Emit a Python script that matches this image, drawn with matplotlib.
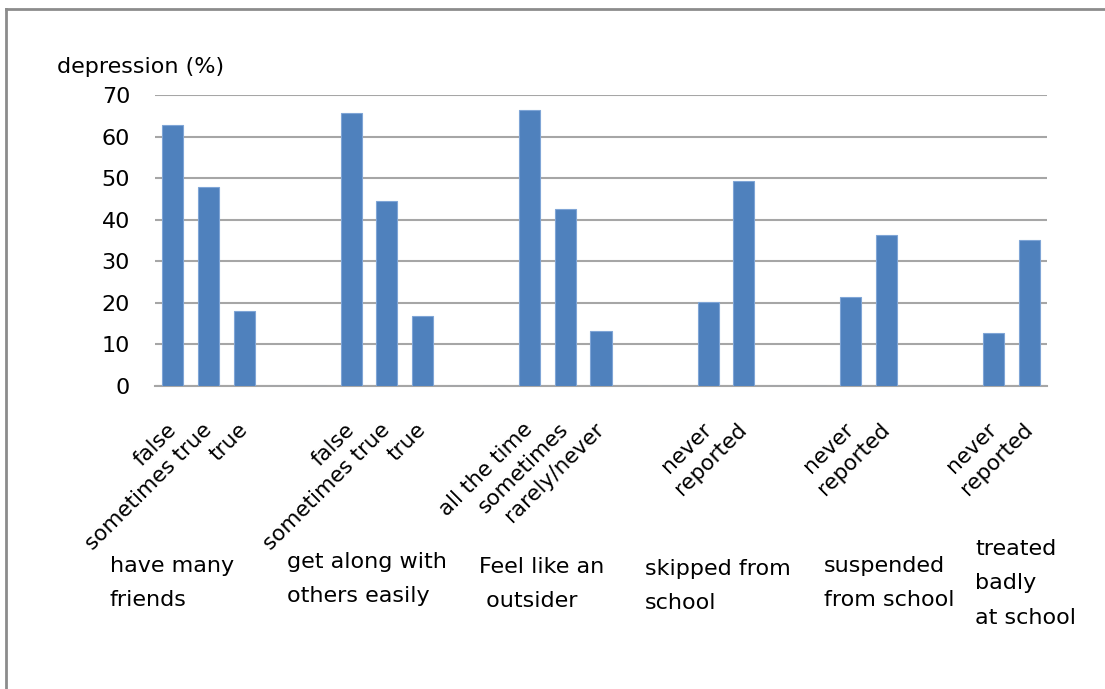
import matplotlib.pyplot as plt
from matplotlib.lines import Line2D

# bar slots (blank slots are the gaps between groups)
labels = ['false', 'sometimes true', 'true', '', '',
          'false', 'sometimes true', 'true', '', '',
          'all the time', 'sometimes', 'rarely/never', '', '',
          'never', 'reported', '', '',
          'never', 'reported', '', '',
          'never', 'reported']
values = [62.8, 47.9, 18.0, 0, 0,
          65.7, 44.5, 16.8, 0, 0,
          66.4, 42.6, 13.2, 0, 0,
          20.2, 49.3, 0, 0,
          21.4, 36.3, 0, 0,
          12.7, 35.1]
groups = ['have many\nfriends', 'get along with\nothers easily', 'Feel like an\n outsider',
          'skipped from\nschool', 'suspended\nfrom school', 'treated\nbadly\nat school']
group_x = [110, 287, 479, 645, 824, 975]
group_y = [556, 552, 557, 559, 556, 539]

W, H = 1105, 689
fig = plt.figure(figsize=(W / 100, H / 100), dpi=100)
ax = fig.add_axes([155 / W, 1 - 386 / H, (1047 - 155) / W, (386 - 95) / H])

x = list(range(len(labels)))
ax.bar(x, values, width=0.59, color='#4F81BD', edgecolor='#7FA5D6', linewidth=0.8, zorder=3)

ax.set_xlim(-0.5, len(labels) - 0.5)
ax.set_ylim(0, 70)
ax.set_yticks(range(0, 71, 10))
ax.yaxis.grid(True, color='#A6A6A6', linewidth=1.5, zorder=0)
ax.set_axisbelow(True)
for s in ['top', 'right', 'left']:
    ax.spines[s].set_visible(False)
ax.spines['bottom'].set_color('#A6A6A6')
ax.spines['bottom'].set_linewidth(1.5)

ax.set_xticks(x)
ax.set_xticklabels(labels, rotation=45, ha='right', va='center', rotation_mode='anchor', fontsize=15.5)
ax.tick_params(axis='x', length=0, pad=29)
ax.tick_params(axis='y', length=0, pad=18, labelsize=16)

fig.text(57 / W, 1 - 67 / H, 'depression (%)', fontsize=16, va='center', ha='left')

for g, gx, gy in zip(groups, group_x, group_y):
    fig.text(gx / W, 1 - gy / H, g, fontsize=16, ha='left', va='top', linespacing=1.9)

# chart frame edges (top and left)
fig.add_artist(Line2D([6 / W, 1], [1 - 9 / H, 1 - 9 / H], color='#8C8C8C', linewidth=2))
fig.add_artist(Line2D([6 / W, 6 / W], [0, 1 - 9 / H], color='#8C8C8C', linewidth=2))

plt.savefig('out.png', dpi=100)
